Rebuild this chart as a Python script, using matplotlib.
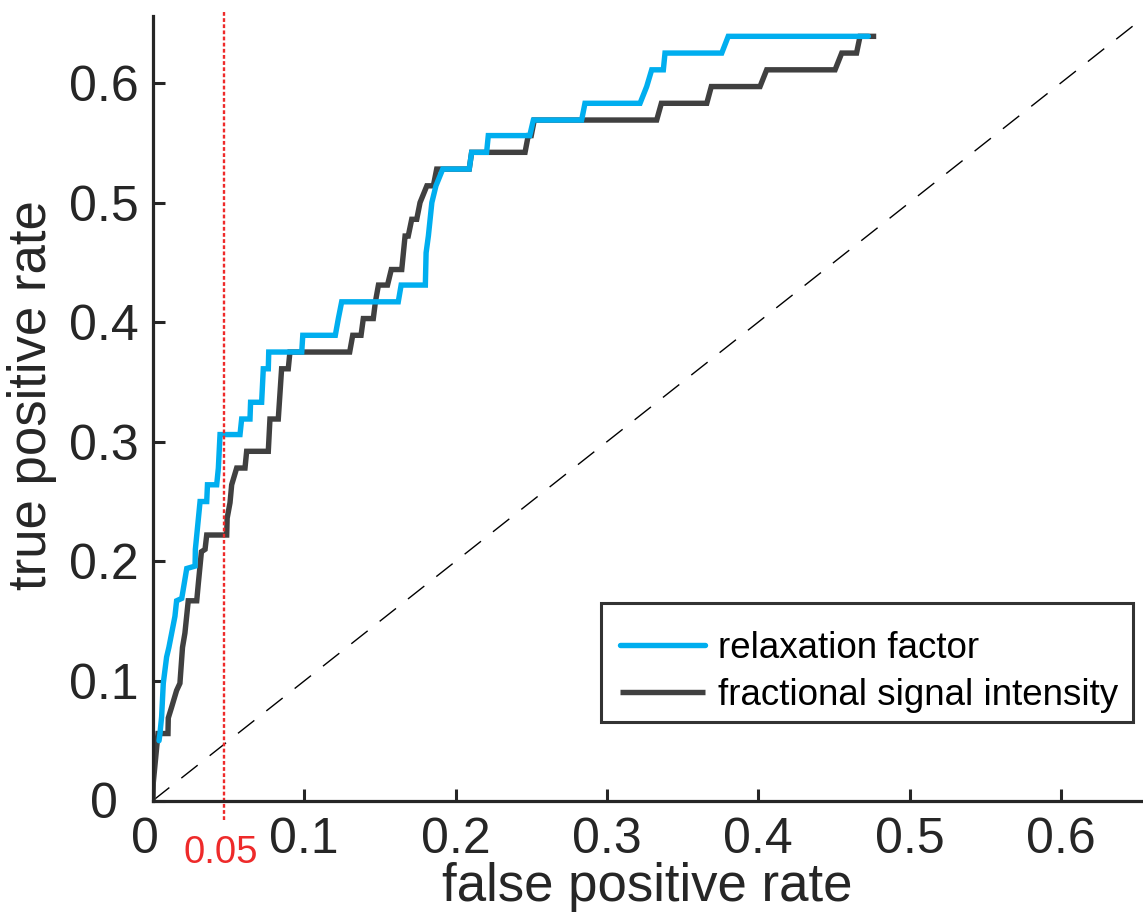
import matplotlib
matplotlib.use("Agg")
import matplotlib.pyplot as plt
from matplotlib.patches import Rectangle
from matplotlib.transforms import ScaledTranslation

plt.rcParams['font.family'] = ['Liberation Sans', 'DejaVu Sans']

# ---- data ----
relax_fpr = [0.0040, 0.0046, 0.0057, 0.0068, 0.009, 0.0105, 0.0145, 0.0156, 0.019,
             0.0223, 0.0278, 0.0280, 0.0311, 0.0355, 0.0360, 0.0421, 0.0432, 0.0443, 0.0575,
             0.0586, 0.0641, 0.0645, 0.0718, 0.0729, 0.0762, 0.0765, 0.0983, 0.0990, 0.1205,
             0.1225, 0.1247, 0.1621, 0.1640, 0.1800, 0.1805, 0.1820, 0.1843, 0.1870, 0.1915,
             0.2090, 0.2106, 0.2205, 0.2216, 0.2490, 0.2514, 0.2833, 0.2855, 0.3219, 0.3263,
             0.3296, 0.3373, 0.3384, 0.3759, 0.3802, 0.4728]
relax_tpr = [0.050, 0.056, 0.070, 0.098, 0.120, 0.128, 0.154, 0.167, 0.169,
             0.194, 0.196, 0.210, 0.250, 0.250, 0.264, 0.264, 0.278, 0.306, 0.306,
             0.319, 0.319, 0.333, 0.333, 0.361, 0.361, 0.375, 0.375, 0.389, 0.389,
             0.403, 0.417, 0.417, 0.431, 0.431, 0.458, 0.472, 0.500, 0.514, 0.528,
             0.528, 0.542, 0.542, 0.556, 0.556, 0.569, 0.569, 0.583, 0.583, 0.597,
             0.611, 0.611, 0.625, 0.625, 0.639, 0.639]

fsi_fpr = [0.000, 0.0002, 0.0033, 0.0099, 0.0101, 0.0123, 0.0156, 0.0178, 0.0195, 0.0211,
           0.0233, 0.0289, 0.0300, 0.0320, 0.0344, 0.0355, 0.0487, 0.0490, 0.0509, 0.0520,
           0.0553, 0.0608, 0.0619, 0.0762, 0.0773, 0.0828, 0.0850, 0.0894, 0.0905, 0.1300,
           0.1320, 0.1375, 0.1390, 0.1456, 0.1470, 0.1490, 0.1550, 0.1575, 0.1644, 0.1666,
           0.1687, 0.1710, 0.1743, 0.1765, 0.1810, 0.1853, 0.1875, 0.2090, 0.2106, 0.2459,
           0.2480, 0.2500, 0.2520, 0.3329, 0.3360, 0.3660, 0.3690, 0.4012, 0.4056, 0.4508,
           0.4552, 0.4650, 0.4673, 0.4780]
fsi_tpr = [0.000, 0.015, 0.056, 0.056, 0.069, 0.078, 0.092, 0.098, 0.128, 0.140,
           0.167, 0.167, 0.182, 0.208, 0.210, 0.222, 0.222, 0.236, 0.249, 0.264,
           0.278, 0.278, 0.292, 0.292, 0.319, 0.319, 0.361, 0.361, 0.375, 0.375,
           0.389, 0.389, 0.403, 0.403, 0.417, 0.431, 0.431, 0.444, 0.444, 0.472,
           0.472, 0.486, 0.486, 0.500, 0.514, 0.514, 0.528, 0.528, 0.542, 0.542,
           0.556, 0.556, 0.569, 0.569, 0.583, 0.583, 0.597, 0.597, 0.611, 0.611,
           0.625, 0.625, 0.639, 0.639]

fpr_threshold = 0.047
threshold_label = "0.05"
series_names = ["relaxation factor", "fractional signal intensity"]
tick_values = [0, 0.1, 0.2, 0.3, 0.4, 0.5, 0.6]
tick_labels = ["0", "0.1", "0.2", "0.3", "0.4", "0.5", "0.6"]

BLUE = "#00AEEF"
GRAY = "#404040"
RED = "#EE2A2A"
AXC = "#262626"

W, H = 1143, 924
fig = plt.figure(figsize=(W / 100, H / 100), dpi=100)
ax = fig.add_axes([153 / W, 1 - 800.5 / H, 988 / W, 784.5 / H])

h_fsi, = ax.plot(fsi_fpr, fsi_tpr, color=GRAY, lw=3.9, solid_joinstyle='miter',
                 solid_capstyle='butt', zorder=3)
h_rel, = ax.plot(relax_fpr, relax_tpr, color=BLUE, lw=3.9, solid_joinstyle='miter',
                 solid_capstyle='round', zorder=4)
ax.plot([0, 1], [0, 1], color='black', lw=1.0, ls=(0, (15, 11)), zorder=2)

ax.plot([fpr_threshold, fpr_threshold], [-0.0163, 0.661], color=RED, lw=1.7,
        ls=(0, (1.6, 1.0)), clip_on=False, zorder=5)
ax.text(0.045, -0.0523, threshold_label, color=RED, fontsize=27.5, ha='center',
        va='baseline', clip_on=False)

ax.set_xlim(0, 0.653)
ax.set_ylim(0, 0.656)
ax.set_xticks(tick_values)
ax.set_xticklabels(tick_labels)
ax.set_yticks(tick_values)
ax.set_yticklabels(tick_labels)

for s in ['top', 'right']:
    ax.spines[s].set_visible(False)
for s in ['left', 'bottom']:
    ax.spines[s].set_linewidth(2.3)
    ax.spines[s].set_color(AXC)
    ax.spines[s].set_zorder(6)

ax.tick_params(axis='both', direction='in', length=8.4, width=2.2, color=AXC,
               labelsize=36, labelcolor=AXC)
ax.tick_params(axis='x', pad=12)
ax.tick_params(axis='y', pad=10)

ax.set_xlabel("false positive rate", fontsize=38, color=AXC)
ax.set_ylabel("true positive rate", fontsize=38, color=AXC)
ax.xaxis.set_label_coords(0.5, -0.0790)
ax.yaxis.set_label_coords(-0.097, 0.517)

# legend frame (MATLAB-style box) and entries
AW, AH = 988, 784.5
box = Rectangle(((601 - 153) / AW, (800.5 - 722) / AH), 532 / AW, 119 / AH,
                transform=ax.transAxes, facecolor='white', edgecolor='#333333',
                linewidth=2.2, zorder=7)
ax.add_patch(box)
leg = ax.legend([h_rel, h_fsi], series_names, loc='center left',
                bbox_to_anchor=((620 - 153) / AW, (800.5 - 672) / AH),
                borderaxespad=0, borderpad=0, fontsize=26.5,
                handlelength=2.31, handletextpad=0.35, labelspacing=0.33,
                frameon=False)
leg.set_zorder(8)

fig.canvas.draw()
xt = ax.xaxis.get_major_ticks()[0].label1
xt.set_transform(xt.get_transform() + ScaledTranslation(-8.5 / 100, 0, fig.dpi_scale_trans))
yt = ax.yaxis.get_major_ticks()[0].label1
yt.set_transform(yt.get_transform() + ScaledTranslation(-21 / 100, 0, fig.dpi_scale_trans))

fig.savefig("out.png", dpi=100)
